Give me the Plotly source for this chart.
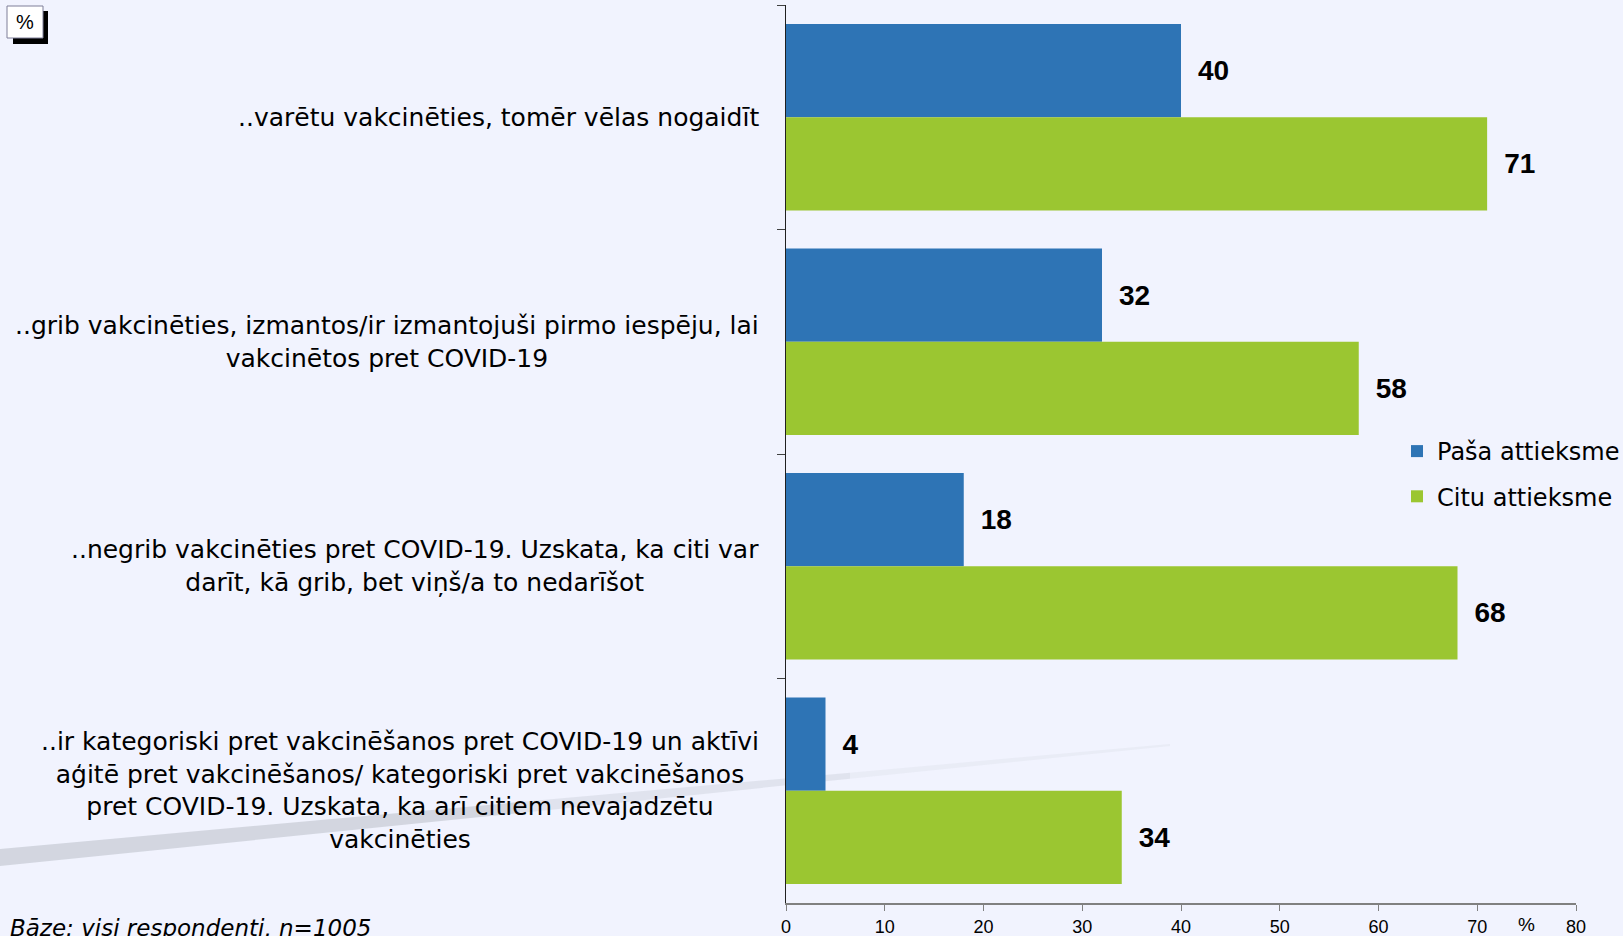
import plotly.graph_objects as go

categories = [
    "..varētu vakcinēties, tomēr vēlas nogaidīt",
    "..grib vakcinēties, izmantos/ir izmantojuši pirmo iespēju, lai<br>vakcinētos pret COVID-19",
    "..negrib vakcinēties pret COVID-19. Uzskata, ka citi var<br>darīt, kā grib, bet viņš/a to nedarīšot",
    "..ir kategoriski pret vakcinēšanos pret COVID-19 un aktīvi<br>aģitē pret vakcinēšanos/ kategoriski pret vakcinēšanos<br>pret COVID-19. Uzskata, ka arī citiem nevajadzētu<br>vakcinēties",
]
cat_ids = ["c1", "c2", "c3", "c4"]
series_names = ["Paša attieksme", "Citu attieksme"]
pasa = [40, 32, 18, 4]
citu = [71, 58, 68, 34]
x_ticks = [0, 10, 20, 30, 40, 50, 60, 70, 80]
colors = ["#2E74B5", "#9BC631"]

W, H = 1623, 936
ML, MR, MT, MB = 786, 47, 5, 33
PW, PH = W - ML - MR, H - MT - MB
FONT = "Liberation Sans, Arial, sans-serif"
WIDE = "DejaVu Sans, sans-serif"


def px(X, Y):
    return (X - ML) / PW, 1 - (Y - MT) / PH


fig = go.Figure()
for i, (name, vals, col) in enumerate(zip(series_names, [pasa, citu], colors)):
    fig.add_trace(go.Bar(
        y=cat_ids, x=vals, name=name, orientation="h", legendgroup=f"g{i}",
        marker=dict(color=col, line=dict(width=0)),
        text=vals, texttemplate="\u2002%{x}", textposition="outside",
        textfont=dict(family=FONT, size=28, color="black", weight="bold"),
        constraintext="none", cliponaxis=False,
    ))

shapes = []
# diagonal decorative stripe (background)
segs = [(0, 520, 17, 11, "rgba(200,204,214,0.75)"),
        (520, 850, 11, 6, "rgba(205,209,219,0.45)"),
        (850, 1170, 6, 2, "rgba(210,214,224,0.25)")]
for x0, x1, w0, w1, c in segs:
    yc0 = 857.5 - 0.0962 * x0
    yc1 = 857.5 - 0.0962 * x1
    p = [px(x0, yc0 - w0 / 2), px(x1, yc1 - w1 / 2), px(x1, yc1 + w1 / 2), px(x0, yc0 + w0 / 2)]
    path = "M " + " L ".join(f"{a},{b}" for a, b in p) + " Z"
    shapes.append(dict(type="path", xref="paper", yref="paper", path=path,
                       fillcolor=c, line=dict(width=0), layer="below"))
# % box with shadow
a0, b0 = px(13, 11); a1, b1 = px(48, 44)
shapes.append(dict(type="rect", xref="paper", yref="paper", x0=a0, y0=b0, x1=a1, y1=b1,
                   fillcolor="black", line=dict(width=0)))
a0, b0 = px(7, 6); a1, b1 = px(43, 38)
shapes.append(dict(type="rect", xref="paper", yref="paper", x0=a0, y0=b0, x1=a1, y1=b1,
                   fillcolor="white", line=dict(width=1, color="#7F7F99")))

annotations = []
rx, _ = px(761, 0)
for cid, lab in zip(cat_ids, categories):
    annotations.append(dict(
        xref="paper", yref="y", x=rx, y=cid, text=lab, showarrow=False,
        xanchor="right", yanchor="middle", align="center",
        font=dict(family=WIDE, size=25, color="black"),
    ))
cx, cy = px(25, 22)
annotations.append(dict(xref="paper", yref="paper", x=cx, y=cy, text="%", showarrow=False,
                        xanchor="center", yanchor="middle",
                        font=dict(family=FONT, size=20, color="black")))
annotations.append(dict(xref="x", yref="paper", x=75, y=0, yshift=-21, text="%", showarrow=False,
                        xanchor="center", yanchor="middle",
                        font=dict(family=FONT, size=19, color="black")))
bx, by = px(8, 913)
annotations.append(dict(xref="paper", yref="paper", x=bx, y=by, text="<i>Bāze: visi respondenti, n=1005</i>",
                        showarrow=False, xanchor="left", yanchor="top",
                        font=dict(family=WIDE, size=23, color="black")))

lx, ly = px(1397, 429)
fig.update_layout(
    width=W, height=H,
    margin=dict(l=ML, r=MR, t=MT, b=MB, pad=0, autoexpand=False),
    paper_bgcolor="#F1F3FE", plot_bgcolor="rgba(0,0,0,0)",
    barmode="group", bargap=0.17, bargroupgap=0,
    font=dict(family=FONT, color="black"),
    xaxis=dict(range=[0, 80], tickvals=x_ticks, ticktext=[str(v) for v in x_ticks],
               automargin=False,
               showgrid=False, zeroline=False, showline=True, linecolor="#808080", linewidth=2,
               ticks="outside", ticklen=6, tickcolor="#808080", tickwidth=1,
               tickfont=dict(family=FONT, size=18, color="black")),
    yaxis=dict(categoryorder="array", categoryarray=cat_ids, autorange="reversed",
               automargin=False,
               showticklabels=False, showgrid=False, zeroline=False,
               showline=True, linecolor="#202020", linewidth=1,
               ticks="outside", tickson="boundaries", ticklen=8, tickcolor="#404040"),
    legend=dict(x=lx, y=ly, xanchor="left", yanchor="top", traceorder="grouped",
                tracegroupgap=11,
                bgcolor="rgba(0,0,0,0)", font=dict(family=WIDE, size=24, color="black")),
    shapes=shapes, annotations=annotations,
)

fig.write_html("out.html", config={"displayModeBar": False},
               post_script="document.body.style.margin='0px';document.body.style.overflow='hidden';")
